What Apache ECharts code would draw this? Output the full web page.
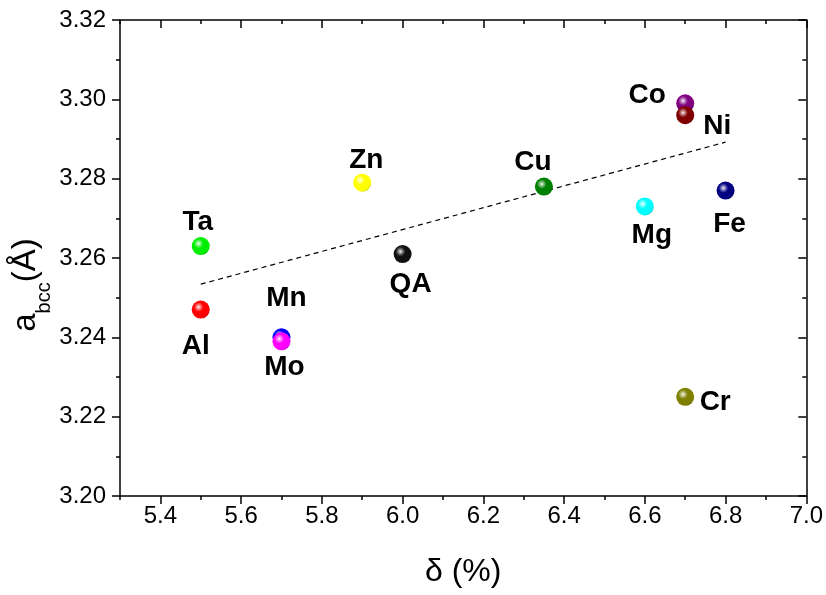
<!DOCTYPE html>
<html>
<head>
<meta charset="utf-8">
<title>Lattice parameter vs. size mismatch</title>
<script src="https://cdn.jsdelivr.net/npm/echarts@6/dist/echarts.min.js"></script>
<style>
  html, body { margin: 0; padding: 0; background: #fff; }
  #chart { width: 826px; height: 595px; }
</style>
</head>
<body>
<div id="chart"></div>
<script>
// Alloying element of each sample and its measured values
const elements = ['Ta', 'Al', 'Mn', 'Mo', 'Zn', 'QA', 'Cu', 'Co', 'Ni', 'Mg', 'Fe', 'Cr'];
const delta    = [5.5, 5.5, 5.7, 5.7, 5.9, 6.0, 6.35, 6.7, 6.7, 6.6, 6.8, 6.7];
const latticeA = [3.263, 3.247, 3.240, 3.239, 3.279, 3.261, 3.278, 3.299, 3.296, 3.273, 3.277, 3.225];
const markerColors = ['#00ee00', '#ff0000', '#0000ff', '#ff00ff', '#ffff00', '#111111',
                      '#008000', '#800080', '#800000', '#00ffff', '#000080', '#808000'];

// Linear trend line end points
const fitDelta = [5.5, 6.8];
const fitA     = [3.2534, 3.2892];

// Axis ticks
const xMajorTicks = [5.4, 5.6, 5.8, 6.0, 6.2, 6.4, 6.6, 6.8, 7.0];
const xMinorTicks = [5.3, 5.5, 5.7, 5.9, 6.1, 6.3, 6.5, 6.7, 6.9];
const yMin = 3.20, yMax = 3.32, yStep = 0.02;
const xMin = 5.3, xMax = 7.0;

// Label placement around each marker, in pixels from its centre
const labelOffset = {
  Ta: [-3, -24], Al: [-5, 37], Mn: [5, -39], Mo: [3, 26], Zn: [4, -22], QA: [8, 30],
  Cu: [-11, -24], Co: [-38, -8], Ni: [32, 11], Mg: [7, 29], Fe: [4, 34], Cr: [30, 5]
};

const FONT = 'Arial, "Liberation Sans", Helvetica, sans-serif';

function mix(hex, other, t) {
  const a = parseInt(hex.slice(1), 16), b = parseInt(other.slice(1), 16);
  const ch = (v, s) => (v >> s) & 255;
  const r = Math.round(ch(a, 16) * (1 - t) + ch(b, 16) * t);
  const g = Math.round(ch(a, 8) * (1 - t) + ch(b, 8) * t);
  const bl = Math.round(ch(a, 0) * (1 - t) + ch(b, 0) * t);
  return 'rgb(' + r + ',' + g + ',' + bl + ')';
}

// Shaded ball look for the markers
function sphere(hex) {
  return {
    type: 'radial', x: 0.38, y: 0.36, r: 0.7,
    colorStops: [
      { offset: 0, color: '#ffffff' },
      { offset: 0.12, color: mix(hex, '#ffffff', 0.6) },
      { offset: 0.38, color: hex },
      { offset: 0.85, color: hex },
      { offset: 1, color: mix(hex, '#000000', 0.25) }
    ]
  };
}

const points = elements.map((name, i) => ({
  name: name,
  value: [delta[i], latticeA[i]],
  itemStyle: { color: sphere(markerColors[i]), opacity: 1 },
  label: { offset: labelOffset[name] }
}));

const axisLine = { show: true, onZero: false, lineStyle: { color: '#000', width: 1.5 } };
const tickStyle = { color: '#000', width: 1.5 };

function xAxisBase(position, ticks, len, inside, withLine, withLabels) {
  return {
    type: 'value', position: position, min: xMin, max: xMax,
    axisLine: withLine ? axisLine : { show: false },
    axisTick: { show: true, inside: inside, length: len, customValues: ticks, lineStyle: tickStyle },
    axisLabel: withLabels ? {
      show: true, customValues: xMajorTicks, fontSize: 24, color: '#000', fontFamily: FONT,
      margin: 8, formatter: v => v.toFixed(1)
    } : { show: false },
    splitLine: { show: false }
  };
}

function yAxisBase(position, inside, withLabels) {
  return {
    type: 'value', position: position, min: yMin, max: yMax, interval: yStep,
    axisLine: axisLine,
    axisTick: { show: true, inside: inside, length: 8, lineStyle: tickStyle },
    minorTick: { show: true, splitNumber: 2, length: 4, lineStyle: tickStyle },
    axisLabel: withLabels ? {
      show: true, fontSize: 24, color: '#000', fontFamily: FONT, margin: 14,
      formatter: v => v.toFixed(2)
    } : { show: false },
    splitLine: { show: false }, minorSplitLine: { show: false }
  };
}

const chart = echarts.init(document.getElementById('chart'), null, { renderer: 'canvas' });

chart.setOption({
  backgroundColor: '#fff',
  animation: false,
  textStyle: { fontFamily: FONT },
  grid: { left: 120, right: 18, top: 20, bottom: 99, containLabel: false },
  xAxis: [
    Object.assign(xAxisBase('bottom', xMajorTicks, 8, false, true, true), {
      name: 'δ (%)', nameLocation: 'middle', nameGap: 60,
      nameTextStyle: { fontSize: 32, color: '#000', fontFamily: FONT }
    }),
    xAxisBase('bottom', xMinorTicks, 4, false, false, false),
    xAxisBase('top', xMajorTicks, 8, true, true, false),
    xAxisBase('top', xMinorTicks, 4, true, false, false)
  ],
  yAxis: [
    yAxisBase('left', false, true),
    yAxisBase('right', true, false)
  ],
  graphic: [{
    type: 'text',
    x: 26, y: 285,
    rotation: Math.PI / 2,
    silent: true,
    style: {
      text: '{a|a}{s|bcc}{a|(Å)}',
      align: 'center', verticalAlign: 'middle',
      fontFamily: FONT, fill: '#000',
      rich: {
        a: { fontSize: 33, lineHeight: 56, fontFamily: FONT, fill: '#000' },
        s: { fontSize: 20, lineHeight: 20, verticalAlign: 'bottom', fontFamily: FONT, fill: '#000' }
      }
    }
  }],
  series: [
    {
      type: 'line',
      data: fitDelta.map((x, i) => [x, fitA[i]]),
      showSymbol: false, symbol: 'none',
      lineStyle: { color: '#000', width: 1.2, type: [5, 4] },
      silent: true, z: 1
    },
    {
      type: 'scatter',
      data: points,
      symbol: 'circle', symbolSize: 18,
      itemStyle: { opacity: 1 },
      label: {
        show: true, position: 'inside', formatter: '{b}',
        fontSize: 28, fontWeight: 'bold', color: '#000', fontFamily: FONT,
        textBorderWidth: 0, textBorderColor: 'transparent', opacity: 1
      },
      emphasis: { disabled: true },
      silent: true, z: 3
    }
  ]
});
</script>
</body>
</html>
